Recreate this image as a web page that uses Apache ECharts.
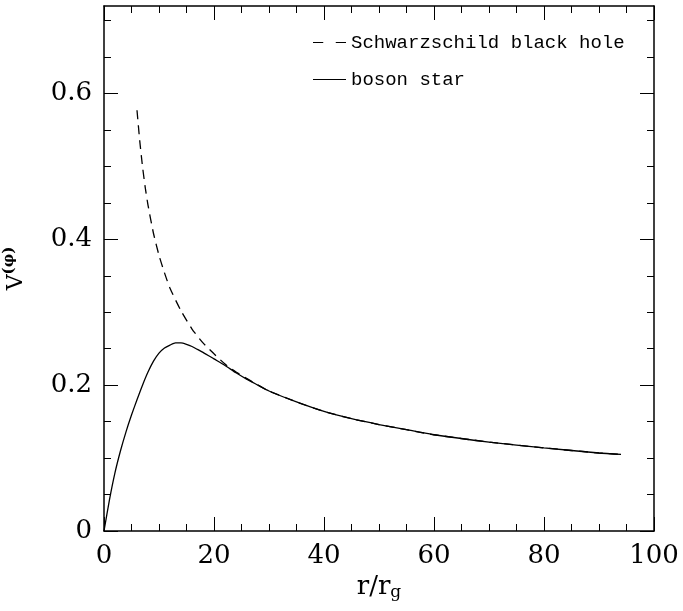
<!DOCTYPE html>
<html>
<head>
<meta charset="utf-8">
<script src="https://cdn.jsdelivr.net/npm/echarts@6/dist/echarts.min.js"></script>
<style>
  html, body { margin: 0; padding: 0; background: #fff; }
  #chart_show { width: 683px; height: 611px; }
</style>
</head>
<body>
<div id="chart_show"></div>
<script>
// values
var rBH = [6, 6.5, 7, 7.5, 8, 9, 10, 11, 12, 14, 16, 18, 20, 22, 24, 26, 28, 30, 35, 40, 45, 50, 55, 60, 70, 80, 90, 94];
var vBH = [0.577, 0.535, 0.500, 0.471, 0.447, 0.408, 0.378, 0.354, 0.333, 0.302, 0.277, 0.258, 0.243, 0.229, 0.218, 0.209, 0.200, 0.192, 0.177, 0.164, 0.154, 0.146, 0.139, 0.132, 0.122, 0.114, 0.107, 0.105];

var rBS = [0, 1, 2, 3, 4, 5, 6, 7, 8, 9, 10, 11, 12, 13, 14, 15, 16, 17, 18, 20, 22, 24, 26, 28, 30, 35, 40, 45, 50, 55, 60, 70, 80, 90, 94];
var vBS = [0, 0.043, 0.080, 0.110, 0.136, 0.159, 0.180, 0.200, 0.218, 0.233, 0.244, 0.251, 0.255, 0.258, 0.258, 0.256, 0.253, 0.249, 0.245, 0.236, 0.227, 0.217, 0.208, 0.200, 0.192, 0.177, 0.164, 0.154, 0.146, 0.139, 0.132, 0.122, 0.114, 0.107, 0.105];

var yMajor = [0, 0.2, 0.4, 0.6];
var yMinor = [0.05, 0.1, 0.15, 0.25, 0.3, 0.35, 0.45, 0.5, 0.55, 0.65, 0.7];

function zip(a, b) {
    var out = [];
    for (var i = 0; i < a.length; i++) out.push([a[i], b[i]]);
    return out;
}

var serif = 'DejaVu Serif';
var lineCol = '#000';

// x: 0..100, major every 20, minor every 5
function xAx(grid, pos, labels, ticks, inside) {
    return {
        type: 'value', gridIndex: grid, position: pos, min: 0, max: 100, interval: 20,
        axisLine: { show: grid === 0, onZero: false, lineStyle: { color: lineCol, width: 1.5 } },
        axisTick: { show: ticks, inside: inside, length: 14, lineStyle: { color: lineCol, width: 1 } },
        minorTick: { show: ticks, splitNumber: 4, length: 7, lineStyle: { color: lineCol, width: 1 } },
        axisLabel: { show: labels, margin: 12, color: '#000', fontFamily: serif, fontSize: 26 },
        splitLine: { show: false }
    };
}
// bottom ticks drawn as split lines of thin strips along the bottom edge
function xStrip(grid, major) {
    return {
        type: 'value', gridIndex: grid, position: 'bottom', min: 0, max: 100, interval: 20,
        axisLine: { show: false, onZero: false },
        axisTick: { show: false },
        axisLabel: { show: false },
        minorTick: { show: false, splitNumber: 4 },
        splitLine: { show: major, lineStyle: { color: lineCol, width: 1 } },
        minorSplitLine: { show: !major, lineStyle: { color: lineCol, width: 1 } }
    };
}
// y: 0..0.72, ticks given directly
function yAx(grid, pos, vals, len, labels) {
    return {
        type: 'value', gridIndex: grid, position: pos, min: 0, max: 0.72,
        axisLine: { show: grid === 0, onZero: false, lineStyle: { color: lineCol, width: 1.5 } },
        axisTick: { show: true, inside: true, length: len, customValues: vals, lineStyle: { color: lineCol, width: 1 } },
        axisLabel: { show: labels, customValues: vals, margin: 12, color: '#000', fontFamily: serif, fontSize: 26,
            formatter: function (v) { return v === 0 ? '0' : v.toFixed(1); } },
        splitLine: { show: false }
    };
}

var xBottom = xAx(0, 'bottom', true, false, true);
xBottom.name = '{a|r/r}{b|g}';
xBottom.nameLocation = 'middle';
xBottom.nameGap = 40;
xBottom.nameTextStyle = {
    rich: {
        a: { fontFamily: serif, fontSize: 26, color: '#000' },
        b: { fontFamily: serif, fontSize: 17, color: '#000', padding: [12, 0, 0, 0] }
    }
};

var yLeft = yAx(0, 'left', yMajor, 14, true);
yLeft.name = '{a|V}{b|(φ)}';
yLeft.nameLocation = 'middle';
yLeft.nameRotate = 90;
yLeft.nameGap = 74;
yLeft.nameTextStyle = {
    rich: {
        a: { fontFamily: serif, fontSize: 22, color: '#000' },
        b: { fontFamily: serif, fontSize: 15, color: '#000', fontWeight: 'bold', padding: [0, 0, 13, 0] }
    }
};

var gridBox = { left: 104, right: 29, top: 6, bottom: 80, containLabel: false, outerBoundsMode: 'none' };
var majorStrip = { left: 104, right: 29, top: 517, bottom: 80, containLabel: false, outerBoundsMode: 'none' };
var minorStrip = { left: 104, right: 29, top: 524, bottom: 80, containLabel: false, outerBoundsMode: 'none' };

var oChart = echarts.init(document.getElementById('chart_show'), null, { renderer: 'canvas' });
var chartopt = {
    animation: false,
    backgroundColor: '#fff',
    grid: [
        Object.assign({}, gridBox),
        Object.assign({}, gridBox),
        majorStrip,
        minorStrip
    ],
    legend: {
        orient: 'vertical',
        left: 308,
        top: 28,
        itemWidth: 33,
        itemHeight: 14,
        itemGap: 18,
        textStyle: { fontFamily: 'Liberation Mono', fontSize: 19, color: '#000' },
        data: [
            { name: 'Schwarzschild black hole', icon: 'path://M0,0L9,0L9,1L0,1Z M20,0L29,0L29,1L20,1Z', itemStyle: { color: '#000' } },
            { name: 'boson star', icon: 'path://M0,0L29,0L29,1L0,1Z', itemStyle: { color: '#000' } }
        ]
    },
    xAxis: [
        xBottom,
        xAx(0, 'top', false, true, true),
        xAx(1, 'bottom', false, false, true),
        xStrip(2, true),
        xStrip(3, false)
    ],
    yAxis: [
        yLeft,
        yAx(0, 'right', yMajor, 14, false),
        yAx(1, 'left', yMinor, 7, false),
        yAx(1, 'right', yMinor, 7, false),
        { type: 'value', gridIndex: 2, show: false, min: 0, max: 1, splitLine: { show: false } },
        { type: 'value', gridIndex: 3, show: false, min: 0, max: 1, splitLine: { show: false } }
    ],
    series: [
        {
            name: 'Schwarzschild black hole',
            type: 'line',
            xAxisIndex: 0, yAxisIndex: 0,
            smooth: 0.2,
            symbol: 'none',
            lineStyle: { color: '#000', width: 1.3, type: [9, 6] },
            itemStyle: { color: '#000' },
            data: zip(rBH, vBH)
        },
        {
            name: 'boson star',
            type: 'line',
            xAxisIndex: 0, yAxisIndex: 0,
            smooth: 0.2,
            symbol: 'none',
            lineStyle: { color: '#000', width: 1.3 },
            itemStyle: { color: '#000' },
            data: zip(rBS, vBS)
        }
    ]
};
oChart.setOption(chartopt);
</script>
</body>
</html>
